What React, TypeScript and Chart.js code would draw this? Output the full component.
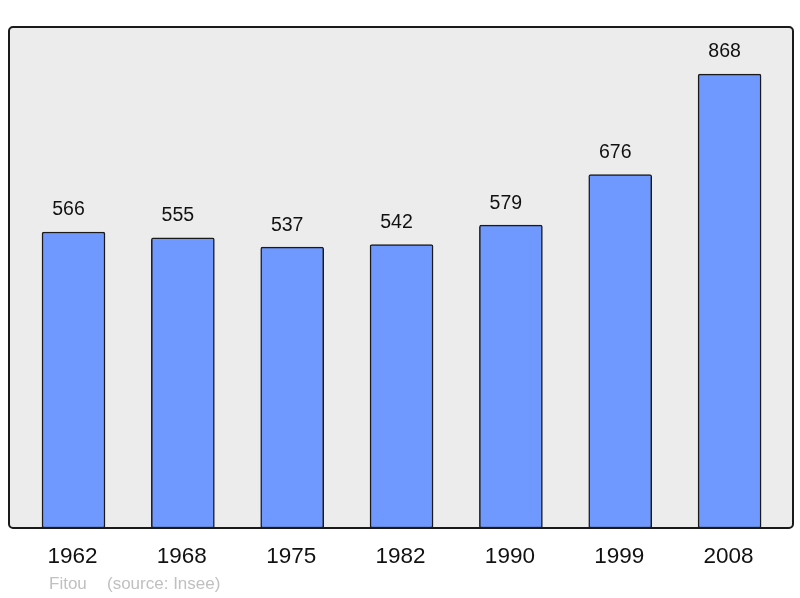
import React, { useEffect, useRef } from "react";
import { Chart, registerables } from "chart.js";

Chart.register(...registerables);

const years = ["1962", "1968", "1975", "1982", "1990", "1999", "2008"];
const population = [566, 555, 537, 542, 579, 676, 868];
const footerName = "Fitou";
const footerSource = "(source: Insee)";

const FONT = "'Liberation Sans', Arial, sans-serif";

export default function App() {
  const ref = useRef<HTMLCanvasElement | null>(null);

  useEffect(() => {
    if (!ref.current) return;
    const boxPlugin = {
      id: "boxPlugin",
      beforeDatasetsDraw(chart: any) {
        const { ctx, chartArea: a } = chart;
        ctx.save();
        ctx.beginPath();
        ctx.roundRect(a.left, a.top, a.right - a.left, a.bottom - a.top, 4);
        ctx.fillStyle = "#ececec";
        ctx.fill();
        ctx.restore();
      },
      afterDatasetsDraw(chart: any) {
        const { ctx, chartArea: a, scales } = chart;
        ctx.save();
        ctx.beginPath();
        ctx.roundRect(a.left, a.top, a.right - a.left, a.bottom - a.top, 4);
        ctx.lineWidth = 2;
        ctx.strokeStyle = "#1a1a1a";
        ctx.stroke();

        const xs = scales.x;
        const ys = scales.y;
        ctx.fillStyle = "#111";
        ctx.textAlign = "center";
        ctx.textBaseline = "middle";
        ctx.font = `19.5px ${FONT}`;
        population.forEach((v, i) => {
          ctx.fillText(String(v), xs.getPixelForValue(i) - 5, ys.getPixelForValue(v) - 22);
        });
        ctx.font = `22.5px ${FONT}`;
        years.forEach((y, i) => {
          ctx.fillText(y, xs.getPixelForValue(i) - 1, a.bottom + 29);
        });
        ctx.font = `17px ${FONT}`;
        ctx.fillStyle = "#c0c0c0";
        ctx.textAlign = "left";
        ctx.fillText(footerName, 49, a.bottom + 56);
        ctx.fillText(footerSource, 107, a.bottom + 56);
        ctx.restore();
      },
    };

    const chart = new Chart(ref.current, {
      type: "bar",
      data: {
        labels: years,
        datasets: [
          {
            data: population.map((v, i) => ({ x: i, y: v })),
            backgroundColor: "#7099ff",
            borderColor: "#1a1a1a",
            borderWidth: 1.5,
            borderRadius: 2,
            borderSkipped: false,
            barThickness: 63,
          },
        ],
      },
      options: {
        animation: false,
        responsive: false,
        devicePixelRatio: 1,
        layout: { padding: { left: 9, top: 27, right: 7, bottom: 70 } },
        plugins: { legend: { display: false }, tooltip: { enabled: false } },
        scales: {
          x: { type: "linear", min: -0.59, max: 6.58, offset: false, bounds: "ticks", display: false },
          y: { min: 0, max: 958, display: false },
        },
      },
      plugins: [boxPlugin],
    });
    return () => chart.destroy();
  }, []);

  return (
    <div style={{ position: "absolute", left: 0, top: 0, width: 800, height: 598, background: "#fff" }}>
      <canvas ref={ref} width={800} height={598} style={{ width: 800, height: 598, display: "block" }} />
    </div>
  );
}
